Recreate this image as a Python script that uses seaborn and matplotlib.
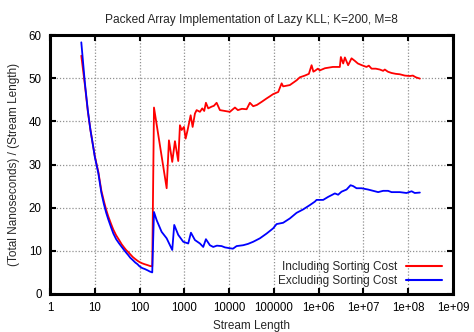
import numpy as np
import pandas as pd
import matplotlib
matplotlib.use("Agg")
import matplotlib.pyplot as plt
import seaborn as sns

# ---- data ----
inc_len = [5, 6, 7, 8, 9, 10, 11, 12, 14, 16, 18, 20, 23, 26, 30, 35, 40, 45, 50, 56, 62, 70, 80, 90,
           100, 115, 130, 150, 170, 192,
           210, 403, 453, 537, 617, 731, 798, 871, 980, 1069, 1185, 1383, 1532, 1725, 1883,
           2230, 2510, 2780, 3035, 3415, 4065, 4580, 5260, 6230, 8060,
           1.04e4, 1.35e4, 1.57e4, 1.93e4, 2.46e4, 2.91e4, 3.45e4, 4.18e4, 5.31e4, 6.87e4, 8.15e4,
           9.6e4, 1.25e5, 1.49e5, 1.61e5, 2.27e5, 3.21e5, 3.8e5, 4.92e5, 6.04e5, 6.95e5, 7.62e5,
           8.23e5, 9.6e5, 1.06e6, 1.38e6, 2.07e6, 2.97e6, 3.13e6, 3.53e6, 3.85e6, 4.55e6, 5.42e6,
           6.43e6, 7.5e6, 9.2e6, 1.17e7, 1.32e7, 1.52e7, 1.89e7, 2.32e7, 2.75e7, 3.0e7, 3.51e7,
           4.24e7, 5.29e7, 6.5e7, 8.4e7, 1.09e8, 1.27e8, 1.48e8, 1.82e8]
inc_val = [55.2, 48.5, 42.3, 38.0, 34.8, 32.0, 30.0, 28.3, 24.0, 21.5, 19.5, 18.0, 16.3, 14.9, 13.6, 12.5,
           11.5, 10.8, 10.2, 9.7, 9.2, 8.6, 8.1, 7.7, 7.4, 7.1, 6.9, 6.7, 6.5, 6.4,
           43.2, 24.5, 35.6, 30.6, 35.4, 30.8, 39.1, 38.0, 38.7, 36.0, 38.0, 41.4, 38.7, 41.8, 42.6,
           42.2, 43.0, 42.4, 44.3, 43.0, 43.4, 43.6, 44.3, 42.6, 42.4,
           42.2, 43.2, 42.6, 42.9, 42.8, 44.3, 43.5, 43.8, 44.5, 45.3, 45.8,
           46.3, 46.8, 48.8, 48.1, 48.4, 49.5, 50.2, 50.6, 51.0, 53.0, 51.5,
           51.7, 52.2, 51.8, 52.3, 52.6, 52.6, 54.9, 53.4, 54.8, 53.0, 54.6,
           54.0, 53.4, 53.0, 52.6, 52.9, 52.2, 52.2, 52.0, 51.7, 52.0, 51.5,
           51.2, 51.0, 50.9, 50.6, 50.5, 50.6, 50.2, 49.9]

exc_len = [5, 6, 7, 8, 9, 10, 11, 12, 14, 16, 18, 20, 23, 26, 30, 35, 40, 45, 50, 56, 62, 70, 80, 90,
           100, 115, 130, 150, 170, 192,
           210, 241, 311, 403, 537, 595, 731, 945, 1222, 1404, 1725, 2230, 2642, 3035, 3725,
           4420, 5345, 6800, 8060, 1.04e4, 1.22e4, 1.47e4, 2.06e4, 2.63e4, 3.45e4, 4.87e4, 6.87e4,
           9.6e4, 1.15e5, 1.61e5, 2.27e5, 3.21e5, 4.51e5, 6.36e5, 8.23e5, 8.97e5, 1.26e6, 1.63e6,
           1.94e6, 2.3e6, 2.72e6, 3.24e6, 4.2e6, 5.15e6, 5.89e6, 7.01e6, 9.07e6, 1.27e7, 1.65e7,
           2.13e7, 2.75e7, 3.56e7, 4.24e7, 6.5e7, 9.17e7, 1.19e8, 1.4e8, 1.82e8]
exc_val = [58.3, 49.0, 42.5, 38.0, 34.8, 31.8, 29.8, 28.0, 23.5, 20.8, 18.8, 17.3, 15.5, 14.0, 12.7, 11.7,
           10.9, 10.2, 9.6, 9.0, 8.4, 7.9, 7.3, 6.9, 6.4, 6.0, 5.8, 5.5, 5.2, 5.0,
           19.0, 17.1, 14.4, 12.9, 10.2, 16.0, 13.7, 12.1, 11.7, 14.2, 12.5, 11.7, 10.9, 12.7, 11.3,
           10.9, 11.2, 11.1, 10.8, 10.6, 10.5, 11.1, 11.3, 11.6, 12.1, 12.9, 14.0,
           15.2, 16.2, 16.5, 17.5, 18.8, 19.6, 20.6, 21.4, 21.8, 21.8, 22.5,
           22.9, 23.3, 23.0, 23.7, 24.2, 25.2, 25.0, 24.5, 24.5, 24.2, 23.9,
           23.6, 23.9, 23.9, 23.6, 23.6, 23.4, 23.8, 23.4, 23.5]

series_names = ["Including Sorting Cost", "Excluding Sorting Cost"]
x_ticks = [1, 10, 100, 1000, 1e4, 1e5, 1e6, 1e7, 1e8, 1e9]
x_tick_labels = ["1", "10", "100", "1000", "10000", "100000", "1e+06", "1e+07", "1e+08", "1e+09"]
y_ticks = [0, 10, 20, 30, 40, 50, 60]

df = pd.concat([
    pd.DataFrame({"length": inc_len, "value": inc_val, "series": series_names[0]}),
    pd.DataFrame({"length": exc_len, "value": exc_val, "series": series_names[1]}),
], ignore_index=True)

sns.set_style("ticks")
plt.rcParams["font.family"] = ["Liberation Sans", "DejaVu Sans"]
plt.rcParams["font.size"] = 8

fig = plt.figure(figsize=(4.74, 3.32), dpi=100)
ax = fig.add_axes([50 / 474, 38 / 332, 403 / 474, 259 / 332])

sns.lineplot(data=df, x="length", y="value", hue="series", hue_order=series_names,
             palette={series_names[0]: "#ff0000", series_names[1]: "#0000ff"},
             estimator=None, sort=False, linewidth=1.3, ax=ax)

ax.set_xscale("log")
ax.set_xlim(1, 1e9)
ax.set_ylim(0, 60)
ax.set_xticks(x_ticks)
ax.set_xticklabels(x_tick_labels)
ax.xaxis.set_minor_locator(matplotlib.ticker.NullLocator())
ax.set_yticks(y_ticks)

ax.grid(True, which="major", color="#909090", linestyle=(0, (1, 1.5)), linewidth=0.9)
ax.tick_params(axis="both", which="major", direction="in", length=4, width=1.5,
               top=True, right=True, labelsize=8.3, pad=6, colors="black")
for s in ax.spines.values():
    s.set_linewidth(2.2)
    s.set_color("black")

ax.set_xlabel("Stream Length", fontsize=8.5, labelpad=4)
ax.set_ylabel("(Total Nanoseconds) / (Stream Length)", fontsize=8.5, labelpad=6)
ax.set_title("Packed Array Implementation of Lazy KLL; K=200, M=8", fontsize=8.6, pad=9)

handles, labels = ax.get_legend_handles_labels()
leg = ax.legend(handles, labels, loc="lower right", frameon=False, markerfirst=False,
                fontsize=8.5, handlelength=3.0, handletextpad=0.8, labelspacing=0.15,
                borderaxespad=0.2, bbox_to_anchor=(0.99, 0.0))
for ln in leg.get_lines():
    ln.set_linewidth(1.5)
try:
    leg._legend_handle_box.get_children()[0].align = "right"
except Exception:
    pass

fig.savefig("out.png", dpi=100)
